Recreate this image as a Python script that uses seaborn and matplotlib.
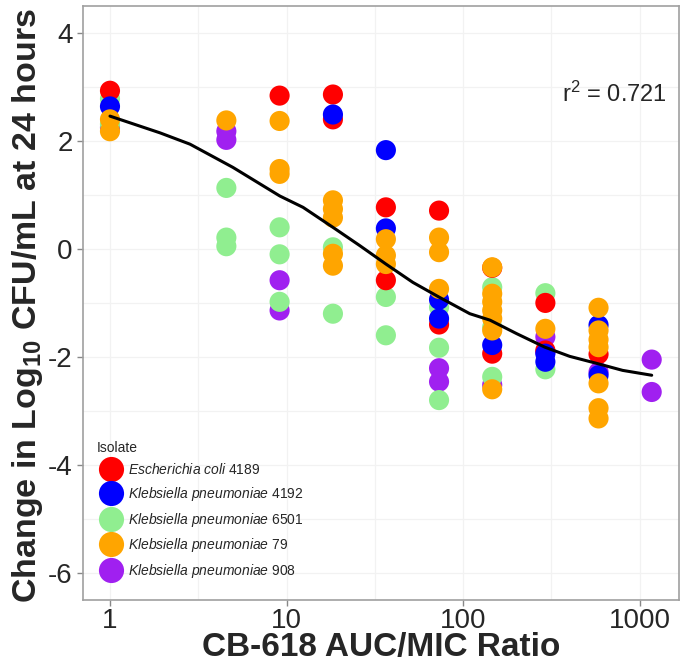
import matplotlib
matplotlib.use("Agg")
import matplotlib.pyplot as plt
import numpy as np
import pandas as pd
import seaborn as sns

# AUC/MIC ratio columns (x positions of the dose groups)
ratios = [1, 4.56, 9.13, 18.3, 36.5, 73, 146, 292, 584, 1168]

# points per isolate: (column index, change in log10 CFU/mL)
ecoli_4189 = [(0, 2.93), (2, 2.84), (3, 2.86), (3, 2.40), (4, 0.77), (4, -0.58),
              (5, 0.71), (5, -1.40), (6, -0.35), (6, -1.94), (7, -1.00), (7, -1.88),
              (8, -1.95)]
kp_4192 = [(0, 2.64), (3, 2.49), (4, 1.83), (4, 0.38), (5, -0.94), (5, -1.29),
           (6, -1.78), (7, -1.94), (7, -2.09), (8, -1.41), (8, -2.34)]
kp_6501 = [(0, 2.78), (0, 2.31), (1, 1.13), (1, 0.21), (1, 0.05), (2, 0.40),
           (2, -0.10), (2, -0.98), (3, 0.03), (3, -1.20), (4, -0.89), (4, -1.60),
           (5, -1.08), (5, -1.83), (5, -2.80), (6, -0.71), (6, -1.45), (6, -2.37),
           (7, -0.82), (7, -2.23)]
kp_79 = [(0, 2.40), (0, 2.18), (1, 2.38), (2, 2.37), (2, 1.48), (2, 1.39),
         (3, 0.90), (3, 0.74), (3, 0.58), (3, -0.09), (3, -0.31), (4, 0.18),
         (4, -0.12), (4, -0.28), (5, 0.21), (5, -0.06), (5, -0.74), (6, -0.34),
         (6, -0.83), (6, -0.98), (6, -1.14), (6, -1.29), (6, -1.51), (6, -2.60),
         (7, -1.48), (8, -1.09), (8, -1.51), (8, -1.68), (8, -1.82), (8, -2.49),
         (8, -2.95), (8, -3.14)]
kp_908 = [(0, 2.25), (1, 2.18), (1, 2.02), (2, -0.58), (2, -1.14), (5, -2.21),
          (5, -2.46), (6, -2.52), (7, -1.63), (7, -1.91), (8, -2.28), (9, -2.05),
          (9, -2.65)]

labels = [r"$\it{Escherichia\ coli}$ 4189",
          r"$\it{Klebsiella\ pneumoniae}$ 4192",
          r"$\it{Klebsiella\ pneumoniae}$ 6501",
          r"$\it{Klebsiella\ pneumoniae}$ 79",
          r"$\it{Klebsiella\ pneumoniae}$ 908"]
colors = ["#FF0000", "#0000FF", "#90EE90", "#FFA500", "#A020F0"]

# fitted curve
curve_x = [1, 1.92, 2.84, 4.97, 9.16, 12.4, 18.3, 26.0, 36.5, 51.9, 72.8, 109,
           142, 201, 290, 401, 570, 800, 1168]
curve_y = [2.46, 2.15, 1.94, 1.51, 0.98, 0.77, 0.40, 0.06, -0.28, -0.62, -0.89,
           -1.20, -1.32, -1.57, -1.82, -1.99, -2.12, -2.25, -2.34]

# draw order (later rows on top)
groups = [(kp_908, labels[4]), (kp_6501, labels[2]), (ecoli_4189, labels[0]),
          (kp_4192, labels[1]), (kp_79, labels[3])]
rows = []
for pts, lab in groups:
    for i, v in pts:
        rows.append({"ratio": ratios[i], "change": v, "Isolate": lab})
df = pd.DataFrame(rows)

sns.set_style("white")
plt.rcParams["font.family"] = ["Liberation Sans", "DejaVu Sans"]
plt.rcParams["mathtext.fontset"] = "custom"
plt.rcParams["mathtext.rm"] = "Liberation Sans"
plt.rcParams["mathtext.it"] = "Liberation Sans:italic"
plt.rcParams["mathtext.bf"] = "Liberation Sans:bold"
plt.rcParams["axes.unicode_minus"] = False

fig = plt.figure(figsize=(6.8, 6.65), dpi=100)
ax = fig.add_axes([0.122, 0.098, 0.876, 0.893])

sns.scatterplot(data=df, x="ratio", y="change", hue="Isolate", hue_order=labels,
                palette=colors, s=210, linewidth=0, alpha=1, ax=ax, zorder=3)
sns.lineplot(x=curve_x, y=curve_y, color="black", linewidth=2.2, sort=False,
             ax=ax, zorder=4)

ax.set_xscale("log")
ax.set_xlim(10 ** -0.153, 10 ** 3.22)
ax.set_ylim(-6.5, 4.5)
ax.set_xticks([1, 10, 100, 1000])
ax.set_xticklabels(["1", "10", "100", "1000"])
ax.set_yticks([-6, -4, -2, 0, 2, 4])
ax.set_xticks([10 ** 0.5, 10 ** 1.5, 10 ** 2.5], minor=True)
ax.set_yticks([-5, -3, -1, 1, 3], minor=True)
ax.tick_params(axis="both", which="major", labelsize=20, length=4, width=1,
               color="#888888", direction="out", bottom=True, left=True)
ax.tick_params(axis="x", which="major", pad=2)
ax.tick_params(axis="both", which="minor", length=0)
ax.grid(True, which="both", color="#F2F2F2", linewidth=0.9)
ax.set_axisbelow(True)
for sp in ax.spines.values():
    sp.set_color("#A0A0A0")
    sp.set_linewidth(1.2)

ax.set_xlabel("")
fig.text(0.5 * (0.122 + 0.998), 0.014, "CB-618 AUC/MIC Ratio", fontsize=24,
         fontweight="bold", ha="center", va="baseline")
ax.set_ylabel(r"Change in Log$_{\mathbf{10}}$ CFU/mL at 24 hours", fontsize=24.5,
              fontweight="bold")
ax.yaxis.set_label_coords(-0.064, 0.495)

ax.text(1420, 2.87, r"r$^2$ = 0.721", fontsize=17, ha="right", va="center")

sns.move_legend(ax, loc="lower left", bbox_to_anchor=(0.005, 0.015),
                frameon=False, title="Isolate", fontsize=10, title_fontsize=10,
                alignment="left", handletextpad=0.25, labelspacing=0.55,
                borderpad=0.3, markerscale=1.25)

fig.savefig("out.png", dpi=100)
